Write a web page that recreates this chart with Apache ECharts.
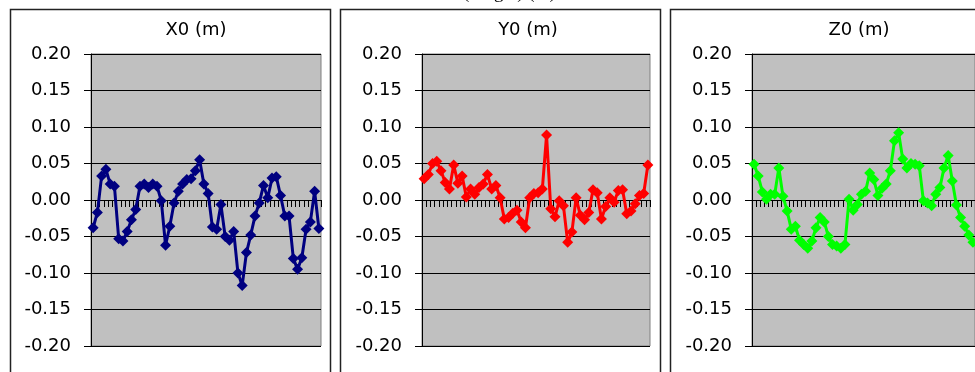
<!DOCTYPE html>
<html>
<head>
<meta charset="utf-8">
<script src="https://cdn.jsdelivr.net/npm/echarts@6/dist/echarts.min.js"></script>
<style>
  html, body { margin: 0; padding: 0; background: #fff; }
  #chart { width: 975px; height: 372px; }
</style>
</head>
<body>
<div id="chart"></div>
<script>
// sample numbers along the x axis (labels are hidden in the picture)
const categories = Array.from({ length: 54 }, (_, i) => String(i + 1));

const panelTitles = ['X0 (m)', 'Y0 (m)', 'Z0 (m)'];
const panelColors = ['#000080', '#FF0000', '#00FF00'];

const x0Values = [
  -0.038, -0.017, 0.033, 0.042, 0.022, 0.019, -0.053, -0.056, -0.043, -0.027,
  -0.013, 0.019, 0.022, 0.017, 0.022, 0.019, -0.001, -0.062, -0.036, -0.004,
  0.012, 0.022, 0.028, 0.029, 0.040, 0.055, 0.022, 0.009, -0.037, -0.040,
  -0.006, -0.050, -0.055, -0.043, -0.100, -0.117, -0.072, -0.048, -0.022, -0.004,
  0.020, 0.003, 0.030, 0.032, 0.006, -0.022, -0.022, -0.080, -0.095, -0.079,
  -0.040, -0.030, 0.012, -0.039
];
const y0Values = [
  0.029, 0.035, 0.050, 0.053, 0.040, 0.024, 0.015, 0.048, 0.023, 0.033,
  0.004, 0.015, 0.008, 0.017, 0.022, 0.035, 0.015, 0.020, 0.003, -0.026,
  -0.024, -0.018, -0.014, -0.030, -0.038, 0.003, 0.009, 0.010, 0.015, 0.089,
  -0.012, -0.023, -0.001, -0.008, -0.058, -0.044, 0.003, -0.021, -0.027, -0.017,
  0.014, 0.010, -0.026, -0.009, 0.003, -0.003, 0.013, 0.014, -0.019, -0.015,
  -0.005, 0.006, 0.009, 0.048
];
const z0Values = [
  0.049, 0.033, 0.011, 0.001, 0.008, 0.008, 0.044, 0.005, -0.015, -0.040,
  -0.036, -0.055, -0.061, -0.066, -0.056, -0.038, -0.024, -0.030, -0.050, -0.061,
  -0.063, -0.066, -0.061, 0.001, -0.014, -0.006, 0.008, 0.012, 0.037, 0.028,
  0.006, 0.016, 0.022, 0.040, 0.081, 0.092, 0.056, 0.044, 0.050, 0.049,
  0.047, -0.001, -0.004, -0.008, 0.008, 0.017, 0.044, 0.061, 0.026, -0.007,
  -0.024, -0.036, -0.048, -0.058
];
const seriesValues = [x0Values, y0Values, z0Values];

// y axis ticks
const yTicks = [-0.20, -0.15, -0.10, -0.05, 0.00, 0.05, 0.10, 0.15, 0.20];

// layout of the three panels
const panelLeft = [10, 340, 670];
const plotLeft = [91, 422, 752];
const plotWidth = [230, 228, 230];
const titleX = [196, 528, 859];

const chart = echarts.init(document.getElementById('chart'));

const font = 'DejaVu Sans';

const grids = [], xAxes = [], yAxes = [], series = [], graphics = [];

for (let p = 0; p < 3; p++) {
  grids.push({
    left: plotLeft[p],
    top: 54,
    width: plotWidth[p],
    height: 292,
    show: true,
    backgroundColor: '#C0C0C0',
    borderColor: '#808080',
    borderWidth: 1
  });
  xAxes.push({
    type: 'category',
    gridIndex: p,
    data: categories,
    boundaryGap: true,
    axisLine: { onZero: true, lineStyle: { color: '#000', width: 1 } },
    axisTick: { show: true, interval: 0, length: 7, inside: false, lineStyle: { color: '#000' } },
    axisLabel: { show: false },
    splitLine: { show: false }
  });
  yAxes.push({
    type: 'value',
    gridIndex: p,
    min: yTicks[0],
    max: yTicks[yTicks.length - 1],
    interval: 0.05,
    axisLine: { show: true, lineStyle: { color: '#000', width: 1 } },
    axisTick: { show: true, length: 7, inside: false, lineStyle: { color: '#000' } },
    axisLabel: {
      margin: 20,
      color: '#000',
      fontFamily: font,
      fontSize: 18,
      formatter: v => v.toFixed(2)
    },
    splitLine: { show: true, lineStyle: { color: '#000', width: 1 } }
  });
  series.push({
    type: 'line',
    name: panelTitles[p],
    xAxisIndex: p,
    yAxisIndex: p,
    data: seriesValues[p],
    symbol: 'diamond',
    symbolSize: 11,
    showAllSymbol: true,
    lineStyle: { color: panelColors[p], width: 3 },
    itemStyle: { color: panelColors[p] },
    z: 5
  });
  // panel frame
  graphics.push({
    type: 'rect',
    shape: { x: panelLeft[p] + 0.5, y: 9.5, width: 320, height: 400 },
    style: { fill: 'none', stroke: '#222', lineWidth: 1.5 },
    z: 0
  });
  graphics.push({
    type: 'text',
    x: titleX[p],
    y: 30,
    style: {
      text: panelTitles[p],
      fontFamily: font,
      fontSize: 18,
      fill: '#000',
      textAlign: 'center',
      textVerticalAlign: 'middle'
    }
  });
}

// heading above the panels, almost entirely cut off at the top edge
graphics.push({
  type: 'text',
  x: 463,
  y: -7,
  style: {
    text: '(Target) (m)',
    fontFamily: 'Liberation Serif',
    fontSize: 19,
    fill: '#000',
    textAlign: 'left',
    textVerticalAlign: 'middle'
  }
});

chart.setOption({
  animation: false,
  backgroundColor: '#fff',
  grid: grids,
  xAxis: xAxes,
  yAxis: yAxes,
  series: series,
  graphic: graphics
});

window.addEventListener('resize', () => chart.resize());
</script>
</body>
</html>
